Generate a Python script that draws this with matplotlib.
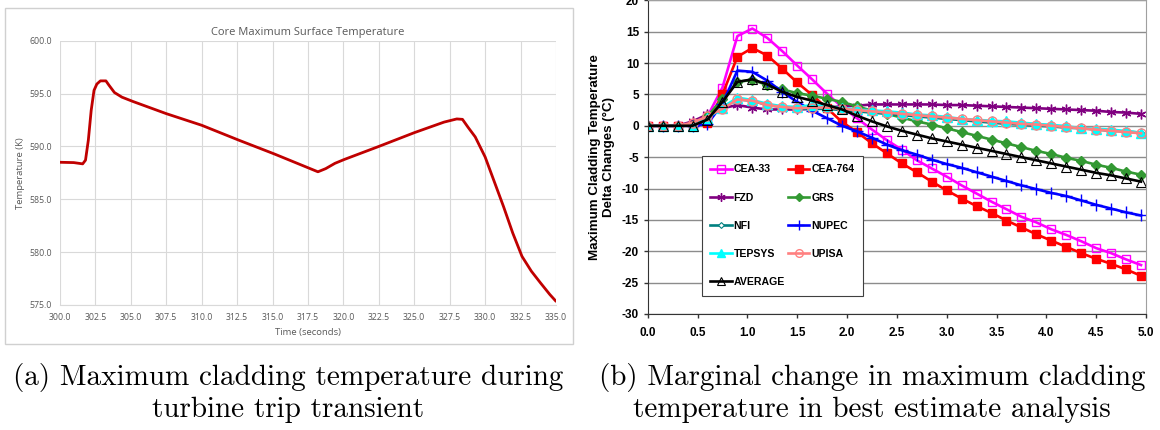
import matplotlib
matplotlib.use("Agg")
import matplotlib.pyplot as plt
import numpy as np
from matplotlib.patches import Rectangle

plt.rcParams['axes.unicode_minus'] = False

# ---------------- Panel (a) data ----------------
time_s = [300.0, 300.97, 301.6, 301.8, 302.0, 302.2, 302.4, 302.6, 302.85, 303.24,
          303.45, 303.84, 304.37, 305.15, 307.5, 310.0, 312.6, 315.1, 318.2, 318.75,
          319.4, 320.05, 322.5, 325.0, 327.1, 328.0, 328.4, 328.8, 329.3, 330.0,
          330.65, 331.3, 331.95, 332.6, 333.26, 333.9, 334.56, 335.0]
temp_k = [588.5, 588.47, 588.35, 588.7, 590.6, 593.4, 595.3, 595.9, 596.2, 596.2,
          595.8, 595.1, 594.66, 594.25, 593.1, 592.0, 590.6, 589.3, 587.6, 587.9,
          588.4, 588.76, 590.0, 591.3, 592.3, 592.6, 592.56, 591.8, 590.9, 589.0,
          586.65, 584.3, 581.8, 579.6, 578.2, 577.1, 576.0, 575.35]
a_xticks = [300.0, 302.5, 305.0, 307.5, 310.0, 312.5, 315.0, 317.5, 320.0, 322.5,
            325.0, 327.5, 330.0, 332.5, 335.0]
a_yticks = [575.0, 580.0, 585.0, 590.0, 595.0, 600.0]

# ---------------- Panel (b) data ----------------
t_b = [round(0.15 * i, 2) for i in range(34)]
cea33 = [0, 0, 0, 0.3, 1.5, 6.1, 14.3, 15.5, 14.0, 11.9, 9.6, 7.4, 5.1, 3.0, 1.2, -0.6,
         -2.3, -3.8, -5.5, -6.8, -8.1, -9.5, -10.8, -12.1, -13.3, -14.5, -15.4, -16.5,
         -17.4, -18.4, -19.5, -20.3, -21.3, -22.2]
cea764 = [0, 0, 0, 0, 0.5, 5.0, 11.0, 12.4, 11.2, 9.1, 6.9, 4.9, 2.8, 0.6, -1.0, -2.8,
          -4.4, -6.0, -7.4, -8.9, -10.3, -11.6, -12.8, -13.9, -15.1, -16.2, -17.3, -18.3,
          -19.3, -20.3, -21.2, -22.0, -22.9, -23.9]
fzd = [0, 0, 0, 0.7, 1.8, 2.8, 3.3, 2.9, 2.6, 2.6, 2.6, 2.7, 2.9, 3.1, 3.2, 3.4,
       3.4, 3.4, 3.4, 3.4, 3.3, 3.3, 3.2, 3.1, 3.0, 2.9, 2.8, 2.7, 2.6, 2.5, 2.4, 2.2,
       2.1, 1.9]
grs = [0, 0, 0, 0.2, 1.5, 4.3, 7.0, 7.3, 6.5, 5.8, 5.2, 4.8, 4.3, 3.8, 3.1, 2.4,
       1.9, 1.3, 0.7, 0.2, -0.4, -1.0, -1.6, -2.2, -2.8, -3.4, -4.0, -4.5, -5.1, -5.6,
       -6.2, -6.7, -7.3, -7.8]
nfi = [0, 0, 0, 0.3, 1.2, 3.0, 4.2, 4.0, 3.3, 3.0, 2.7, 2.7, 2.7, 2.5, 2.3, 2.1,
       1.9, 1.7, 1.5, 1.3, 1.1, 0.9, 0.7, 0.5, 0.3, 0.2, 0.0, -0.1, -0.3, -0.4, -0.6,
       -0.8, -0.9, -1.1]
nupec = [0, 0, 0, 0, 0.3, 3.5, 8.8, 8.6, 7.2, 5.4, 3.8, 2.4, 1.2, 0.0, -0.9, -1.9,
         -3.0, -3.9, -4.6, -5.4, -6.1, -6.7, -7.4, -8.1, -8.8, -9.5, -10.1, -10.7,
         -11.2, -11.9, -12.6, -13.2, -13.8, -14.3]
tepsys = [0, 0, 0, 0, 1.2, 2.9, 4.5, 4.1, 3.5, 3.1, 3.0, 3.3, 3.1, 2.8, 2.6, 2.45,
          2.3, 2.1, 1.8, 1.65, 1.4, 1.1, 0.95, 0.8, 0.7, 0.5, 0.3, 0.15, -0.05, -0.4,
          -0.5, -0.6, -0.85, -1.1]
upisa = [0, 0, 0, 0.5, 1.5, 2.7, 4.2, 4.0, 3.3, 3.0, 2.8, 2.9, 2.9, 2.7, 2.5, 2.3,
         2.1, 1.9, 1.7, 1.5, 1.3, 1.1, 0.9, 0.7, 0.5, 0.3, 0.2, 0.0, -0.2, -0.4, -0.6,
         -0.8, -1.0, -1.2]
average = [0, 0, 0, 0, 1.0, 3.8, 7.0, 7.4, 6.6, 5.4, 4.6, 4.0, 3.3, 2.6, 1.6, 0.7,
           -0.1, -0.8, -1.4, -2.0, -2.5, -3.0, -3.5, -4.0, -4.5, -5.0, -5.5, -6.0, -6.5,
           -7.0, -7.5, -7.9, -8.4, -8.9]
b_xticks = [0.0, 0.5, 1.0, 1.5, 2.0, 2.5, 3.0, 3.5, 4.0, 4.5, 5.0]
b_yticks = [-30, -25, -20, -15, -10, -5, 0, 5, 10, 15, 20]

caption_a = ["(a) Maximum cladding temperature during", "turbine trip transient"]
caption_b = ["(b) Marginal change in maximum cladding", "temperature in best estimate analysis"]

W, H = 1160, 430
fig = plt.figure(figsize=(W / 100, H / 100), dpi=100)

def fx(px):
    return px / W

def fy(py):
    return 1 - py / H

# ---------------- Panel (a) ----------------
fig.patches.append(Rectangle((fx(5), fy(344)), fx(573 - 5), (344 - 8) / H,
                             transform=fig.transFigure, fill=False,
                             edgecolor='#D0D0D0', linewidth=1.0, zorder=0))
axa = fig.add_axes([fx(60), fy(305), fx(556 - 60), (305 - 40.7) / H])
axa.plot(time_s, temp_k, color='#C00000', linewidth=2.0, solid_capstyle='round')
axa.set_xlim(300, 335)
axa.set_ylim(575, 600)
axa.set_xticks(a_xticks)
axa.set_yticks(a_yticks)
axa.set_xticklabels([f"{v:.1f}" for v in a_xticks])
axa.set_yticklabels([f"{v:.1f}" for v in a_yticks])
axa.grid(True, color='#D9D9D9', linewidth=0.8)
axa.set_axisbelow(True)
for s in axa.spines.values():
    s.set_visible(False)
axa.spines['bottom'].set_visible(True)
axa.spines['bottom'].set_color('#D9D9D9')
axa.tick_params(length=0, labelsize=6.3, labelcolor='#595959', pad=6)
for lab in axa.get_xticklabels() + axa.get_yticklabels():
    lab.set_fontfamily('Open Sans')
axa.set_title("Core Maximum Surface Temperature", fontsize=8, color='#595959',
              fontfamily='Open Sans', pad=4)
axa.set_xlabel("Time (seconds)", fontsize=6.8, color='#595959', fontfamily='Open Sans',
               labelpad=4)
axa.set_ylabel("Temperature (K)", fontsize=6.8, color='#595959', fontfamily='Open Sans',
               labelpad=3)

# ---------------- Panel (b) ----------------
axb = fig.add_axes([fx(647.7), fy(314), fx(1146 - 647.7), (314 - 0.3) / H])
series = [
    ("CEA-33", cea33, dict(color='#FF00FF', marker='s', mfc='none', mec='#FF00FF', ms=6.2, mew=1.0)),
    ("CEA-764", cea764, dict(color='#FF0000', marker='s', mfc='#FF0000', mec='#FF0000', ms=6.2)),
    ("FZD", fzd, dict(color='#800080', marker=(6, 2, 0), mec='#800080', ms=7, mew=1.0)),
    ("GRS", grs, dict(color='#339933', marker='D', mfc='#339933', mec='#339933', ms=5)),
    ("NFI", nfi, dict(color='#008080', marker='D', mfc='white', mec='#008080', ms=3.5, mew=0.8)),
    ("NUPEC", nupec, dict(color='#0000FF', marker='+', mec='#0000FF', ms=8, mew=1.0)),
    ("TEPSYS", tepsys, dict(color='#00FFFF', marker='^', mfc='#00FFFF', mec='#00FFFF', ms=7)),
    ("UPISA", upisa, dict(color='#FF8080', marker='o', mfc='none', mec='#FF8080', ms=6.5, mew=1.0)),
    ("AVERAGE", average, dict(color='#000000', marker='^', mfc='none', mec='#000000', ms=7, mew=0.8)),
]
handles = {}
for name, vals, kw in series:
    h, = axb.plot(t_b, vals, linewidth=1.9, label=name, **kw)
    handles[name] = h

axb.set_xlim(0, 5)
axb.set_ylim(-30, 20)
axb.set_xticks(b_xticks)
axb.set_yticks(b_yticks)
axb.set_xticklabels([f"{v:.1f}" for v in b_xticks])
axb.set_yticklabels([str(v) for v in b_yticks])
axb.yaxis.grid(True, color='#8C8C8C', linewidth=1.0)
axb.set_axisbelow(True)
axb.spines['left'].set_color('#333333')
axb.spines['bottom'].set_color('#333333')
axb.spines['right'].set_color('#A0A0A0')
axb.spines['top'].set_color('#A0A0A0')
axb.tick_params(direction='out', length=3.2, width=1, color='#333333', labelsize=8.5, pad=3)
for lab in axb.get_xticklabels() + axb.get_yticklabels():
    lab.set_fontfamily('Liberation Sans')
    lab.set_fontweight('bold')
axb.xaxis.set_tick_params(pad=6)
axb.set_ylabel("Maximum Cladding Temperature\nDelta Changes (\u00b0C)", fontsize=9.6,
               fontweight='bold', fontfamily='Liberation Sans', labelpad=5, linespacing=1.25)

order = ["CEA-33", "FZD", "NFI", "TEPSYS", "AVERAGE", "CEA-764", "GRS", "NUPEC", "UPISA"]
leg = axb.legend([handles[n] for n in order], order, ncol=2,
                 loc='upper left', bbox_to_anchor=((702 - 647.7) / 498.3, 1 - (156 - 0.3) / 313.7),
                 prop=dict(family='Liberation Sans', weight='bold', size=7.6),
                 frameon=True, fancybox=False, edgecolor='#404040', framealpha=1,
                 labelspacing=1.72, handlelength=2.0, handletextpad=0.2,
                 columnspacing=0.3, borderpad=0.8, borderaxespad=0, markerscale=0.85)
leg.get_frame().set_linewidth(0.8)

# ---------------- Captions ----------------
fig.text(fx(288), fy(378), caption_a[0], fontfamily='cmr10', fontsize=21, ha='center', va='center')
fig.text(fx(288), fy(410), caption_a[1], fontfamily='cmr10', fontsize=21, ha='center', va='center')
fig.text(fx(872), fy(378), caption_b[0], fontfamily='cmr10', fontsize=21, ha='center', va='center')
fig.text(fx(872), fy(410), caption_b[1], fontfamily='cmr10', fontsize=21, ha='center', va='center')

fig.savefig("out.png", dpi=100)
